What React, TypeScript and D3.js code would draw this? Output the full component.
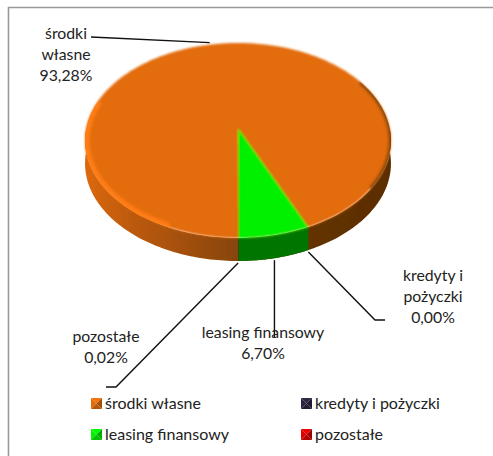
import React from "react";
import * as d3 from "d3";

const categories = ["środki własne", "kredyty i pożyczki", "leasing finansowy", "pozostałe"];
const shares = [93.28, 0.0, 6.7, 0.02];
const colors = ["#e36c0a", "#2e2440", "#00f000", "#e00000"];
const labelLines = [["środki", "własne"], ["kredyty i", "pożyczki"], ["leasing finansowy"], ["pozostałe"]];

const width = 493;
const height = 456;
const font = "Lato, 'Open Sans', sans-serif";

// pie projection, the back of the disc is squashed more than the front
const cx = 238;
const cy = 128;
const rx = 151.7;
const ry = 95.9;
const persp = 0.128;
const depth = 23;

const project = (a: number): [number, number] => {
  const k = 1 + persp * Math.cos(a);
  return [cx + (rx * Math.sin(a)) / k, cy - (ry * Math.cos(a)) / k];
};

const arcPoints = (a0: number, a1: number) => {
  const n = Math.max(2, Math.ceil(Math.abs(a1 - a0) / 0.02));
  return d3.range(n + 1).map((i) => project(a0 + ((a1 - a0) * i) / n));
};

const deg = (d: number) => (d * Math.PI) / 180;

const line = d3.line();
const pieGen = d3.pie<number>().sort(null).startAngle(Math.PI).endAngle(3 * Math.PI);
const arcs = pieGen(shares);

const pct = d3.formatLocale({ decimal: ",", thousands: " ", grouping: [3], currency: ["", ""] }).format(".2f");

// where each leader stops at its label, and where its text sits
const labelLayout = [
  { x: 66, y: 33, elbow: [[91, 37]] },
  { x: 433, y: 275, elbow: [[385, 320], [375, 320]] },
  { x: 263, y: 332, elbow: [[0, 338]] },
  { x: 106, y: 336, elbow: [[106, 387], [116, 387]] },
];
const legendLayout = [
  { x: 91, y: 398 },
  { x: 301, y: 398 },
  { x: 91, y: 429 },
  { x: 301, y: 429 },
];

const leader = (i: number) => {
  const mid = (arcs[i].startAngle + arcs[i].endAngle) / 2;
  const [px, py] = project(mid);
  const front = Math.cos(mid) < 0;
  const start: [number, number] = [px, front ? py + depth + 2 : py - 2];
  const elbow = labelLayout[i].elbow.map(([x, y]) => [x === 0 ? px : x, y] as [number, number]);
  return line([...elbow, start]) as string;
};

const Swatch = ({ x, y, color }: { x: number; y: number; color: string }) => {
  const s = 11;
  const m: [number, number] = [x + s / 2, y + s / 2];
  const c = d3.color(color)!;
  const tris: [string, [number, number], [number, number]][] = [
    [c.brighter(0.2).formatHex(), [x, y], [x + s, y]],
    [c.formatHex(), [x, y], [x, y + s]],
    [c.darker(0.9).formatHex(), [x + s, y], [x + s, y + s]],
    [c.darker(0.6).formatHex(), [x, y + s], [x + s, y + s]],
  ];
  return (
    <g>
      {tris.map(([f, a, b], i) => (
        <path key={i} d={(line([a, b, m]) as string) + "Z"} fill={f} />
      ))}
    </g>
  );
};

export default function App() {
  const outline = (line(arcPoints(0, 2 * Math.PI)) as string) + "Z";
  const wall = arcPoints(deg(90), deg(270));
  const wallShape = [...wall, ...wall.map(([x, y]) => [x, y + depth] as [number, number]).reverse()];

  return (
    <svg width={width} height={height} style={{ position: "absolute", left: 0, top: 0 }} fontFamily={font}>
      <defs>
        <linearGradient id="sideOrange" gradientUnits="userSpaceOnUse" x1={85} x2={391} y1={0} y2={0}>
          <stop offset="0%" stopColor="#dc680c" />
          <stop offset="15%" stopColor="#bd5a0b" />
          <stop offset="45%" stopColor="#8f4808" />
          <stop offset="75%" stopColor="#633203" />
          <stop offset="100%" stopColor="#5a2d02" />
        </linearGradient>
        <clipPath id="topClip">
          <path d={outline} />
        </clipPath>
        <filter id="soft" x="-5%" y="-5%" width="110%" height="110%">
          <feGaussianBlur stdDeviation={0.6} />
        </filter>
        <filter id="softer" x="-5%" y="-5%" width="110%" height="110%">
          <feGaussianBlur stdDeviation={1} />
        </filter>
        <filter id="rimBlur" x="-10%" y="-10%" width="120%" height="120%">
          <feGaussianBlur stdDeviation={1.5} />
        </filter>
      </defs>

      <rect width={width} height={height} fill="#fff" />
      <path d={`M8.5,${height}V7.5H${width}`} fill="none" stroke="#999" strokeWidth={1.6} />

      <g filter="url(#soft)">
        {/* side wall, only the front part shows */}
        <path d={(line(wallShape) as string) + "Z"} fill="url(#sideOrange)" />
        {arcs.slice(1).map((d, i) => {
          const top = arcPoints(d.startAngle, d.endAngle);
          const bottom = top.map(([x, y]) => [x, y + depth] as [number, number]).reverse();
          const fill = (d3.color(colors[i + 1]) as d3.RGBColor).darker(2).formatHex();
          return <path key={i} d={(line([...top, ...bottom]) as string) + "Z"} fill={fill} />;
        })}
      </g>
      <g filter="url(#softer)">
        {/* top face, orange goes under the rest so the seams stay closed */}
        <path d={outline} fill={colors[0]} />
        {arcs.slice(1).map((d, i) => (
          <path
            key={i}
            d={(line([[cx, cy], ...arcPoints(d.startAngle, d.endAngle)]) as string) + "Z"}
            fill={colors[i + 1]}
          />
        ))}
      </g>
      {/* bevel: light on the lower left, dark on the right */}
      <g clipPath="url(#topClip)">
        <path
          d={line(arcPoints(deg(205), deg(285))) as string}
          fill="none"
          stroke="#ff7d12"
          strokeWidth={9}
          strokeLinecap="round"
          filter="url(#rimBlur)"
        />
        <path
          d={line(arcPoints(deg(60), deg(125))) as string}
          fill="none"
          stroke="#7a3e06"
          strokeWidth={4}
          strokeLinecap="round"
          filter="url(#rimBlur)"
        />
      </g>

      {arcs.map((d, i) => (
        <path key={i} d={leader(i)} fill="none" stroke="#111" strokeWidth={1.4} />
      ))}

      {categories.map((c, i) => {
        const rows = [...labelLines[i], pct(shares[i]) + "%"];
        return (
          <g key={c} fontSize={15.8} fill="#222" textAnchor="middle">
            {rows.map((t, j) => (
              <text key={j} x={labelLayout[i].x} y={labelLayout[i].y + j * 21.3} dy="0.35em">
                {t}
              </text>
            ))}
          </g>
        );
      })}

      {categories.map((c, i) => (
        <g key={c}>
          <Swatch x={legendLayout[i].x} y={legendLayout[i].y} color={colors[i]} />
          <text x={legendLayout[i].x + 14} y={legendLayout[i].y + 5.5} dy="0.35em" fontSize={16} fill="#222">
            {c}
          </text>
        </g>
      ))}
    </svg>
  );
}
